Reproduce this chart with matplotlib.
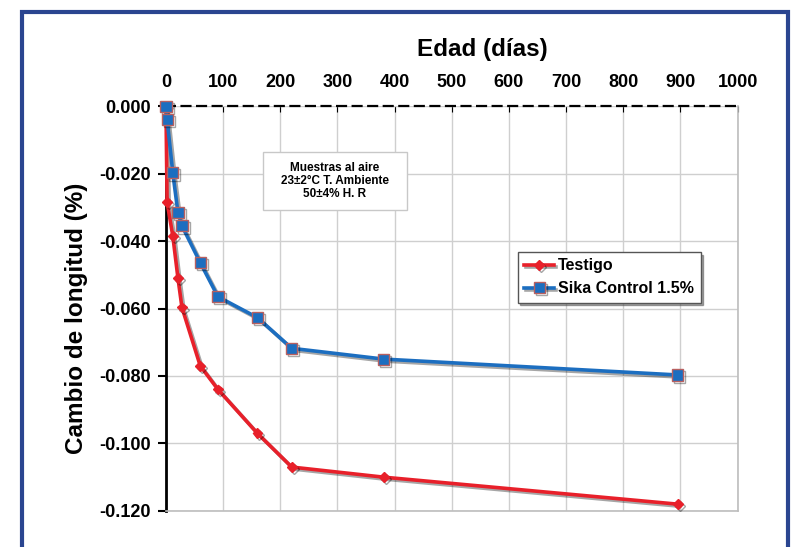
#!/usr/bin/env python3
# plot.py - contraccion por secado, Testigo vs Sika Control

import matplotlib
matplotlib.use("Agg")
import matplotlib.pyplot as plt
import matplotlib.patheffects as pe
from matplotlib.patches import Rectangle
from matplotlib.ticker import FuncFormatter

dias = [0, 2, 12, 21, 28, 60, 91, 160, 220, 381, 895]
testigo = [0.0, -0.0285, -0.0385, -0.051, -0.0597, -0.077, -0.084, -0.097, -0.107, -0.110, -0.118]
sika = [0.0, -0.004, -0.0198, -0.0316, -0.0355, -0.0464, -0.0565, -0.0627, -0.0718, -0.075, -0.0797]
x_ticks = [0, 100, 200, 300, 400, 500, 600, 700, 800, 900, 1000]
y_ticks = [0.0, -0.02, -0.04, -0.06, -0.08, -0.10, -0.12]

plt.rcParams["font.family"] = ["Liberation Sans", "DejaVu Sans"]
plt.rcParams["font.weight"] = "bold"
plt.rcParams["axes.unicode_minus"] = False


def main():
    fig = plt.figure(figsize=(7.94, 5.47), dpi=100)

    # marco azul alrededor del grafico
    fig.patches.append(Rectangle((22 / 794, -0.05), 766 / 794, 1.05 - 12 / 547,
                                 transform=fig.transFigure, fill=False,
                                 edgecolor="#2A4590", linewidth=3.0, zorder=0))

    ax = fig.add_axes([0.209, 0.066, 0.72, 0.740])

    shadow = [pe.SimpleLineShadow(offset=(1.5, -1.5), alpha=0.35), pe.Normal()]
    ax.plot(dias, testigo, color="#E8202A", lw=2.6, marker="D", ms=5,
            mfc="#E8202A", mec="#E8202A", label="Testigo", clip_on=False,
            zorder=3, path_effects=shadow)
    ax.plot(dias, sika, color="#1C6EC0", lw=2.6, marker="s", ms=8,
            mfc="#1C6EC0", mec="#B86060", mew=1.0, label="Sika Control 1.5%",
            clip_on=False, zorder=4, path_effects=shadow)

    ax.set_xlim(0, 1000)
    ax.set_ylim(-0.12, 0.0)
    ax.set_xticks(x_ticks)
    ax.set_yticks(y_ticks)
    ax.yaxis.set_major_formatter(FuncFormatter(lambda v, p: f"{v:.3f}" if abs(v) > 1e-9 else "0.000"))

    ax.xaxis.tick_top()
    ax.xaxis.set_label_position("top")
    ax.tick_params(axis="x", direction="in", length=4, pad=11, labelsize=13, top=True, bottom=False)
    ax.tick_params(axis="y", direction="out", length=6, width=1.5, labelsize=13, pad=5)
    for lbl in ax.get_xticklabels() + ax.get_yticklabels():
        lbl.set_fontweight("bold")

    ax.set_xlabel("Edad (días)", fontsize=17.5, fontweight="bold")
    ax.xaxis.set_label_coords(0.553, 1.125)
    ax.set_ylabel("Cambio de longitud (%)", fontsize=17.5, fontweight="bold")
    ax.yaxis.set_label_coords(-0.137, 0.475)

    ax.grid(True, color="#CFCFCF", lw=1.0)
    ax.set_axisbelow(True)
    ax.spines["left"].set_color("black")
    ax.spines["left"].set_linewidth(2.0)
    ax.spines["top"].set_linestyle((0, (4, 3)))
    ax.spines["top"].set_linewidth(1.6)
    ax.spines["top"].set_color("black")
    for s in ("right", "bottom"):
        ax.spines[s].set_color("#BDBDBD")
        ax.spines[s].set_linewidth(1.2)

    # cuadro de condiciones de ensayo
    ax.add_patch(Rectangle((0.170, 0.743), 0.251, 0.143, transform=ax.transAxes,
                           fc="white", ec="#C8C8C8", lw=1.0, zorder=2))
    ax.text(0.295, 0.815, "Muestras al aire\n23±2°C T. Ambiente\n50±4% H. R",
            transform=ax.transAxes, ha="center", va="center", fontsize=8.5,
            fontweight="bold", linespacing=1.1, zorder=2.5)

    leg = ax.legend(loc="upper left", bbox_to_anchor=(0.615, 0.64), frameon=True,
                    fancybox=False, shadow=True, prop={"weight": "bold", "size": 11.5},
                    handlelength=1.9, handletextpad=0.25, borderpad=0.4, labelspacing=0.5,
                    borderaxespad=0)
    leg.get_frame().set_edgecolor("#555555")
    leg.get_frame().set_linewidth(1.0)

    fig.savefig("out.png", dpi=100, facecolor="white")


if __name__ == "__main__":
    main()
